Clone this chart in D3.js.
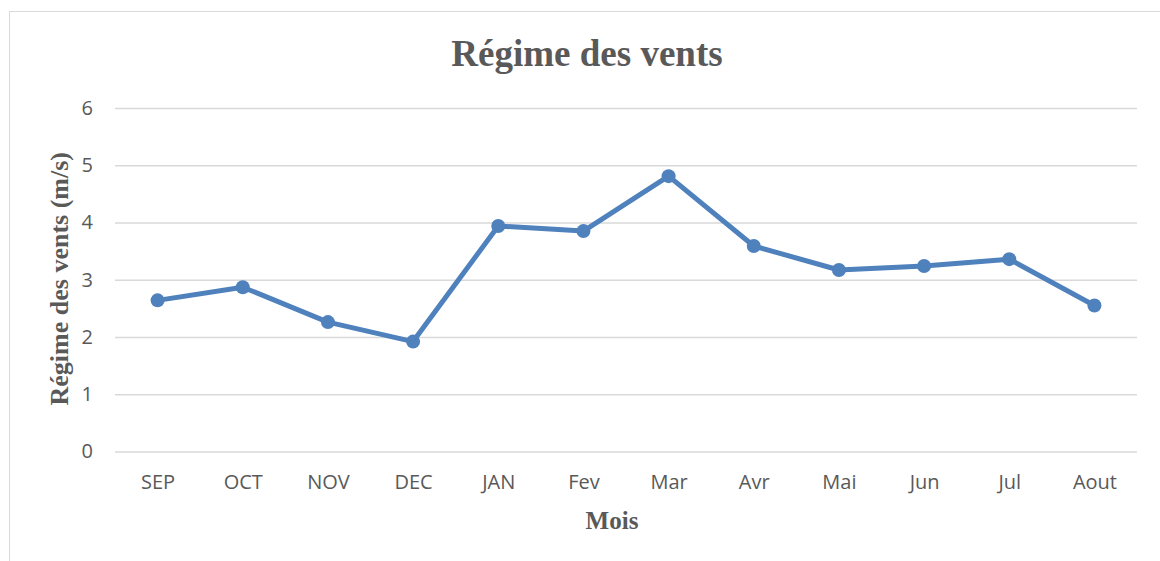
<!DOCTYPE html>
<html>
<head>
<meta charset="utf-8">
<script src="https://cdn.jsdelivr.net/npm/d3@7"></script>
<style>
  body { margin: 0; background: #fff; }
  svg { display: block; }
</style>
</head>
<body>
<svg id="chart"></svg>
<script>
// wind regime by month
var months = ["SEP", "OCT", "NOV", "DEC", "JAN", "Fev", "Mar", "Avr", "Mai", "Jun", "Jul", "Aout"];
var vents = [2.64, 2.87, 2.26, 1.92, 3.94, 3.85, 4.81, 3.59, 3.17, 3.24, 3.36, 2.55];
var yTicks = [0, 1, 2, 3, 4, 5, 6];

var W = 1160, H = 561;
var plot = { left: 115, right: 1137, top: 108, bottom: 451.5 };

var svg = d3.select("#chart").attr("width", W).attr("height", H);

// outer chart frame
svg.append("rect")
    .attr("x", 9.5).attr("y", 11.5)
    .attr("width", W).attr("height", H)
    .attr("fill", "#fff")
    .attr("stroke", "#d9d9d9")
    .attr("stroke-width", 1);

var x = d3.scalePoint()
    .domain(months)
    .range([plot.left, plot.right])
    .padding(0.5);

var y = d3.scaleLinear()
    .domain([0, 6])
    .range([plot.bottom, plot.top]);

var tickFont = "'Open Sans', 'Liberation Sans', sans-serif";

// gridlines + y labels
var yAxis = d3.axisLeft(y)
    .tickValues(yTicks)
    .tickSize(-(plot.right - plot.left))
    .tickPadding(22)
    .tickFormat(d3.format("d"));

var yG = svg.append("g")
    .attr("transform", "translate(" + plot.left + ",0)")
    .call(yAxis);
yG.select(".domain").remove();
yG.selectAll(".tick line").attr("stroke", "#d9d9d9").attr("stroke-width", 1.3);
yG.selectAll(".tick text")
    .attr("fill", "#595959")
    .style("font-family", tickFont)
    .style("font-size", "20px");

// x labels
var xAxis = d3.axisBottom(x).tickSize(0).tickPadding(23);
var xG = svg.append("g")
    .attr("transform", "translate(0," + plot.bottom + ")")
    .call(xAxis);
xG.select(".domain").remove();
xG.selectAll(".tick text")
    .attr("fill", "#595959")
    .style("font-family", tickFont)
    .style("font-size", "20px");

// the line
var line = d3.line()
    .x(function(d, i) { return x(months[i]); })
    .y(function(d) { return y(d); });

svg.append("path")
    .datum(vents)
    .attr("fill", "none")
    .attr("stroke", "#4f81bd")
    .attr("stroke-width", 5)
    .attr("stroke-linejoin", "round")
    .attr("d", line);

svg.selectAll("circle.pt")
    .data(vents)
    .enter().append("circle")
    .attr("class", "pt")
    .attr("cx", function(d, i) { return x(months[i]); })
    .attr("cy", function(d) { return y(d); })
    .attr("r", 7)
    .attr("fill", "#4f81bd");

// title and axis titles
svg.append("text")
    .attr("x", 587).attr("y", 66)
    .attr("text-anchor", "middle")
    .attr("fill", "#595959")
    .style("font-family", "'Liberation Serif', serif")
    .style("font-weight", "bold")
    .style("font-size", "37px")
    .text("Régime des vents");

svg.append("text")
    .attr("x", 612).attr("y", 529)
    .attr("text-anchor", "middle")
    .attr("fill", "#595959")
    .style("font-family", "'Liberation Serif', serif")
    .style("font-weight", "bold")
    .style("font-size", "25px")
    .text("Mois");

svg.append("text")
    .attr("transform", "translate(68," + ((plot.top + plot.bottom) / 2 - 1) + ") rotate(-90)")
    .attr("text-anchor", "middle")
    .attr("fill", "#595959")
    .style("font-family", "'Liberation Serif', serif")
    .style("font-weight", "bold")
    .style("font-size", "26px")
    .text("Régime des vents (m/s)");
</script>
</body>
</html>
